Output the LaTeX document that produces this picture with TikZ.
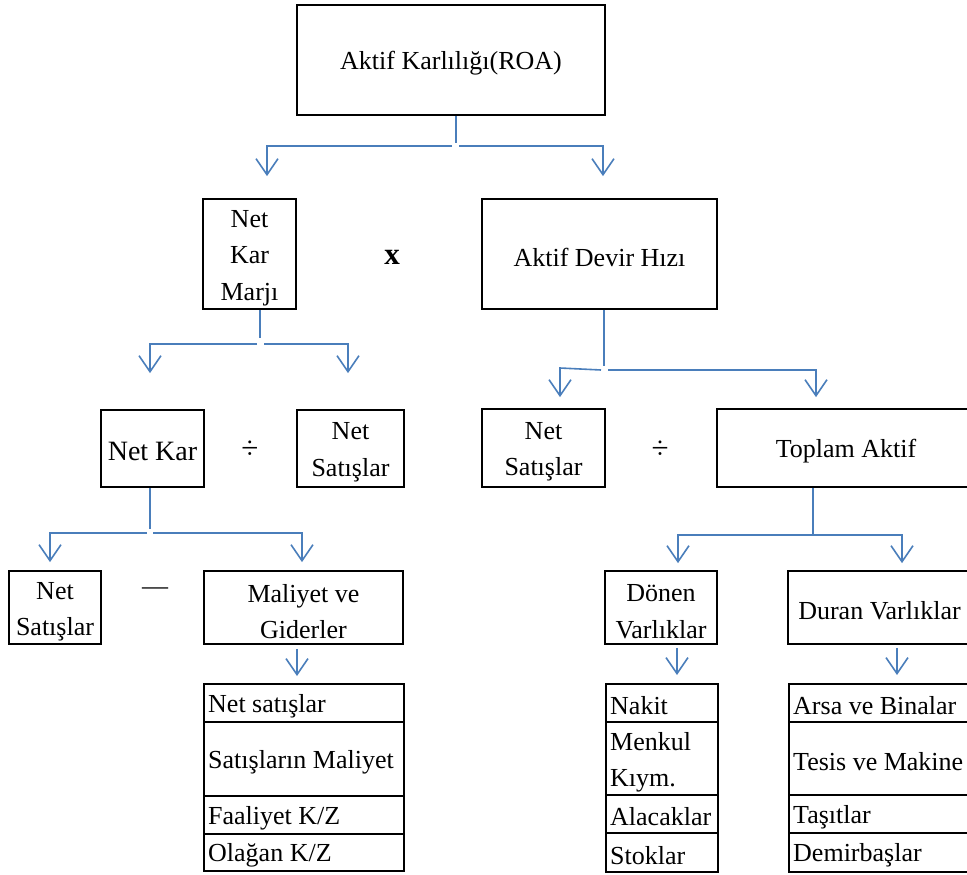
\documentclass[tikz,border=0pt]{standalone}
\usepackage{fontspec}
\setmainfont{Liberation Serif}
\usetikzlibrary{arrows.meta,calc}
\definecolor{lnk}{HTML}{4A7EBB}
\newcommand\dfont{\fontsize{26}{36.5}\selectfont}
\begin{document}
\begin{tikzpicture}[x=1pt,y=-1pt,
  box/.style={draw=black,line width=1.8pt,inner sep=0pt},
  txt/.style={inner sep=0pt,align=center,font=\dfont},
  cell/.style={draw=black,line width=1.8pt,inner sep=0pt,anchor=north west},
  ctxt/.style={inner sep=0pt,align=left,font=\dfont,anchor=west},
  op/.style={inner sep=0pt,font=\fontsize{31}{36}\selectfont},
  link/.style={draw=lnk,line width=1.6pt},
  arr/.style={link,-{Straight Barb[length=16pt,width=22pt,line width=1.6pt]}}]
\useasboundingbox (0,0) rectangle (967,875);
\clip (0,0) rectangle (967,875);

% level 1
\node[box,minimum width=308pt,minimum height=110pt] (roa) at (451,60) {};
\node[txt] (roa-t) at ($(roa)+(0,3)$) {Aktif Karlılığı(ROA)};
% level 2
\node[box,minimum width=93pt,minimum height=110pt] (nkm) at (249.5,254) {};
\node[txt] (nkm-t) at ($(nkm)+(0,4)$) {Net\\Kar\\Marjı};
\node[op] (times) at (392,257) {\textbf{x}};
\node[box,minimum width=235pt,minimum height=110pt] (adh) at (599.5,254) {};
\node[txt] (adh-t) at ($(adh)+(0,3)$) {Aktif Devir Hızı};
% level 3
\node[box,minimum width=103pt,minimum height=77pt] (nk) at (152.5,448.5) {};
\node[txt,font=\fontsize{28}{34}\selectfont] (nk-t) at ($(nk)+(0,3)$) {Net Kar};
\node[op] (div1) at (250,450) {÷};
\node[box,minimum width=107pt,minimum height=77pt] (ns1) at (350.5,448.5) {};
\node[txt] (ns1-t) at ($(ns1)+(0,4)$) {Net\\Satışlar};
\node[box,minimum width=123pt,minimum height=78pt] (ns2) at (543.5,448) {};
\node[txt] (ns2-t) at ($(ns2)+(0,4)$) {Net\\Satışlar};
\node[op] (div2) at (660,450) {÷};
\node[box,minimum width=258pt,minimum height=78pt] (ta) at (846,448) {};
\node[txt] (ta-t) at ($(ta)+(0,3)$) {Toplam Aktif};
% level 4
\node[box,minimum width=92pt,minimum height=73pt] (ns3) at (55,607.5) {};
\node[txt] (ns3-t) at ($(ns3)+(0,4)$) {Net\\Satışlar};
\node[txt] (minus) at (155,591) {—};
\node[box,minimum width=199pt,minimum height=73pt] (mg) at (303.5,607.5) {};
\node[txt] (mg-t) at ($(mg)+(0,4)$) {Maliyet ve\\Giderler};
\node[box,minimum width=112pt,minimum height=73pt] (dv) at (661,607.5) {};
\node[txt] (dv-t) at ($(dv)+(0,4)$) {Dönen\\Varlıklar};
\node[box,minimum width=187pt,minimum height=73pt] (duv) at (881.5,607.5) {};
\node[txt] (duv-t) at ($(duv)+(-2,3)$) {Duran Varlıklar};

% left table
\node[cell,minimum width=200pt,minimum height=38pt] (l1) at (203,683) {};
\node[cell,minimum width=200pt,minimum height=74pt] (l2) at (203,721) {};
\node[cell,minimum width=200pt,minimum height=38pt] (l3) at (203,795) {};
\node[cell,minimum width=200pt,minimum height=37pt] (l4) at (203,833) {};
\node[ctxt] (l1-t) at ($(l1.west)+(5,3)$) {Net satışlar};
\node[ctxt] (l2-t) at ($(l2.west)+(5,3)$) {Satışların Maliyet};
\node[ctxt] (l3-t) at ($(l3.west)+(5,3)$) {Faaliyet K/Z};
\node[ctxt] (l4-t) at ($(l4.west)+(5,3)$) {Olağan K/Z};
% donen table
\node[cell,minimum width=112pt,minimum height=38pt] (d1) at (605,683) {};
\node[cell,minimum width=112pt,minimum height=73pt] (d2) at (605,721) {};
\node[cell,minimum width=112pt,minimum height=38pt] (d3) at (605,794) {};
\node[cell,minimum width=112pt,minimum height=39pt] (d4) at (605,832) {};
\node[ctxt] (d1-t) at ($(d1.west)+(5,3)$) {Nakit};
\node[ctxt] (d2-t) at ($(d2.west)+(5,4)$) {Menkul\\Kıym.};
\node[ctxt] (d3-t) at ($(d3.west)+(5,3)$) {Alacaklar};
\node[ctxt] (d4-t) at ($(d4.west)+(5,3)$) {Stoklar};
% duran table
\node[cell,minimum width=210pt,minimum height=38pt] (r1) at (788,683) {};
\node[cell,minimum width=210pt,minimum height=73pt] (r2) at (788,721) {};
\node[cell,minimum width=210pt,minimum height=38pt] (r3) at (788,794) {};
\node[cell,minimum width=210pt,minimum height=39pt] (r4) at (788,832) {};
\node[ctxt] (r1-t) at ($(r1.west)+(5,3)$) {Arsa ve Binalar};
\node[ctxt] (r2-t) at ($(r2.west)+(5,3)$) {Tesis ve Makine};
\node[ctxt] (r3-t) at ($(r3.west)+(5,3)$) {Taşıtlar};
\node[ctxt] (r4-t) at ($(r4.west)+(5,3)$) {Demirbaşlar};

% connectors: ROA
\coordinate (j1) at (456,146);
\draw[link] (roa.south -| j1) -- ($(j1)+(0,-3)$);
\draw[arr] ($(j1)+(-4,0)$) -| ([xshift=17.5pt,yshift=22pt]nkm.north);
\draw[arr] ($(j1)+(3,0)$) -| ([xshift=3.5pt,yshift=22pt]adh.north);
% Net Kar Marji
\coordinate (j2) at (260,344);
\draw[link] (nkm.south -| j2) -- ($(j2)+(0,-6)$);
\draw[arr] ($(j2)+(-3,0)$) -| ([xshift=-2.5pt,yshift=36pt]nk.north);
\draw[arr] ($(j2)+(4,0)$) -| ([xshift=-2.5pt,yshift=36pt]ns1.north);
% Aktif Devir Hizi
\coordinate (j3) at (604,370);
\draw[link] (adh.south -| j3) -- ($(j3)+(0,-4)$);
\draw[arr] ($(j3)+(-3,0)$) -- (560,368) -- ([xshift=16.5pt,yshift=11pt]ns2.north);
\draw[arr] ($(j3)+(4,0)$) -| ([xshift=-30pt,yshift=11pt]ta.north);
% Net Kar
\coordinate (j4) at (150,533);
\draw[link] (nk.south -| j4) -- ($(j4)+(0,-4)$);
\draw[arr] ($(j4)+(-3,0)$) -| ([xshift=-5pt,yshift=8pt]ns3.north);
\draw[arr] ($(j4)+(3,0)$) -| ([xshift=-1.5pt,yshift=8pt]mg.north);
% Toplam Aktif
\coordinate (j5) at (813,535);
\draw[link] (ta.south -| j5) -- (j5);
\draw[arr] (j5) -| ([xshift=17pt,yshift=7pt]dv.north);
\draw[arr] (j5) -| ([xshift=20.5pt,yshift=7pt]duv.north);
% to tables
\draw[arr] ([xshift=-6.5pt,yshift=-4pt]mg.south) -- ([xshift=94pt,yshift=7pt]l1.north west);
\draw[arr] ([xshift=16pt,yshift=-3pt]dv.south) -- ([xshift=72pt,yshift=8pt]d1.north west);
\draw[arr] ([xshift=15.5pt,yshift=-3pt]duv.south) -- ([xshift=109pt,yshift=8pt]r1.north west);
\end{tikzpicture}
\end{document}
